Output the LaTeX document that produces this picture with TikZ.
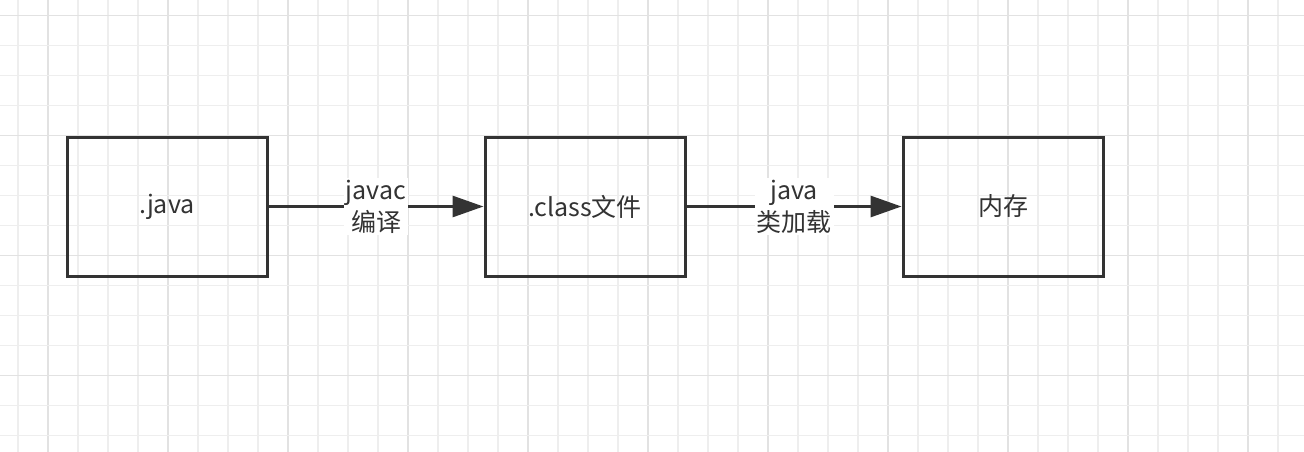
\documentclass[tikz,border=0pt]{standalone}
\usepackage{fontspec}
\setmainfont{Noto Sans CJK SC}
\usetikzlibrary{arrows.meta}
\definecolor{ink}{HTML}{333333}
\definecolor{gridminor}{HTML}{EEEEEE}
\definecolor{gridmajor}{HTML}{E2E2E2}
\tikzset{
  stage/.style={draw=ink, line width=3pt, minimum width=200pt, minimum height=139pt, inner sep=0pt, text=ink, font=\fontsize{25}{30}\selectfont},
  flow/.style={draw=ink, line width=3pt, -{Triangle[length=31pt,width=21pt]}},
  lbl/.style={fill=white, text=ink, font=\fontsize{25}{32}\selectfont, align=center, inner sep=2pt}
}
\begin{document}
\begin{tikzpicture}[x=1pt,y=-1pt]
\useasboundingbox (0,0) rectangle (1304,452);
\fill[white] (0,0) rectangle (1304,452);
\foreach \i in {0,...,43} {
  \pgfmathtruncatemacro{\m}{mod(\i+3,4)}
  \ifnum\m=0
    \draw[gridmajor, line width=1.6pt] ({18+30*\i},0) -- ({18+30*\i},452);
  \else
    \draw[gridminor, line width=1.6pt] ({18+30*\i},0) -- ({18+30*\i},452);
  \fi
}
\foreach \j in {0,...,14} {
  \pgfmathtruncatemacro{\m}{mod(\j,4)}
  \ifnum\m=0
    \draw[gridmajor, line width=1.6pt] (0,{15.5+30*\j}) -- (1304,{15.5+30*\j});
  \else
    \draw[gridminor, line width=1.6pt] (0,{15.5+30*\j}) -- (1304,{15.5+30*\j});
  \fi
}
\node[stage] (java) at (167,206.5) {.java};
\node[stage] (class) at (585,206.5) {.class文件};
\node[stage] (mem) at (1003,206.5) {内存};
\draw[flow] (java.east) -- node[lbl] {javac\\编译} (class.west);
\draw[flow] (class.east) -- node[lbl] {java\\类加载} (mem.west);
\end{tikzpicture}
\end{document}
